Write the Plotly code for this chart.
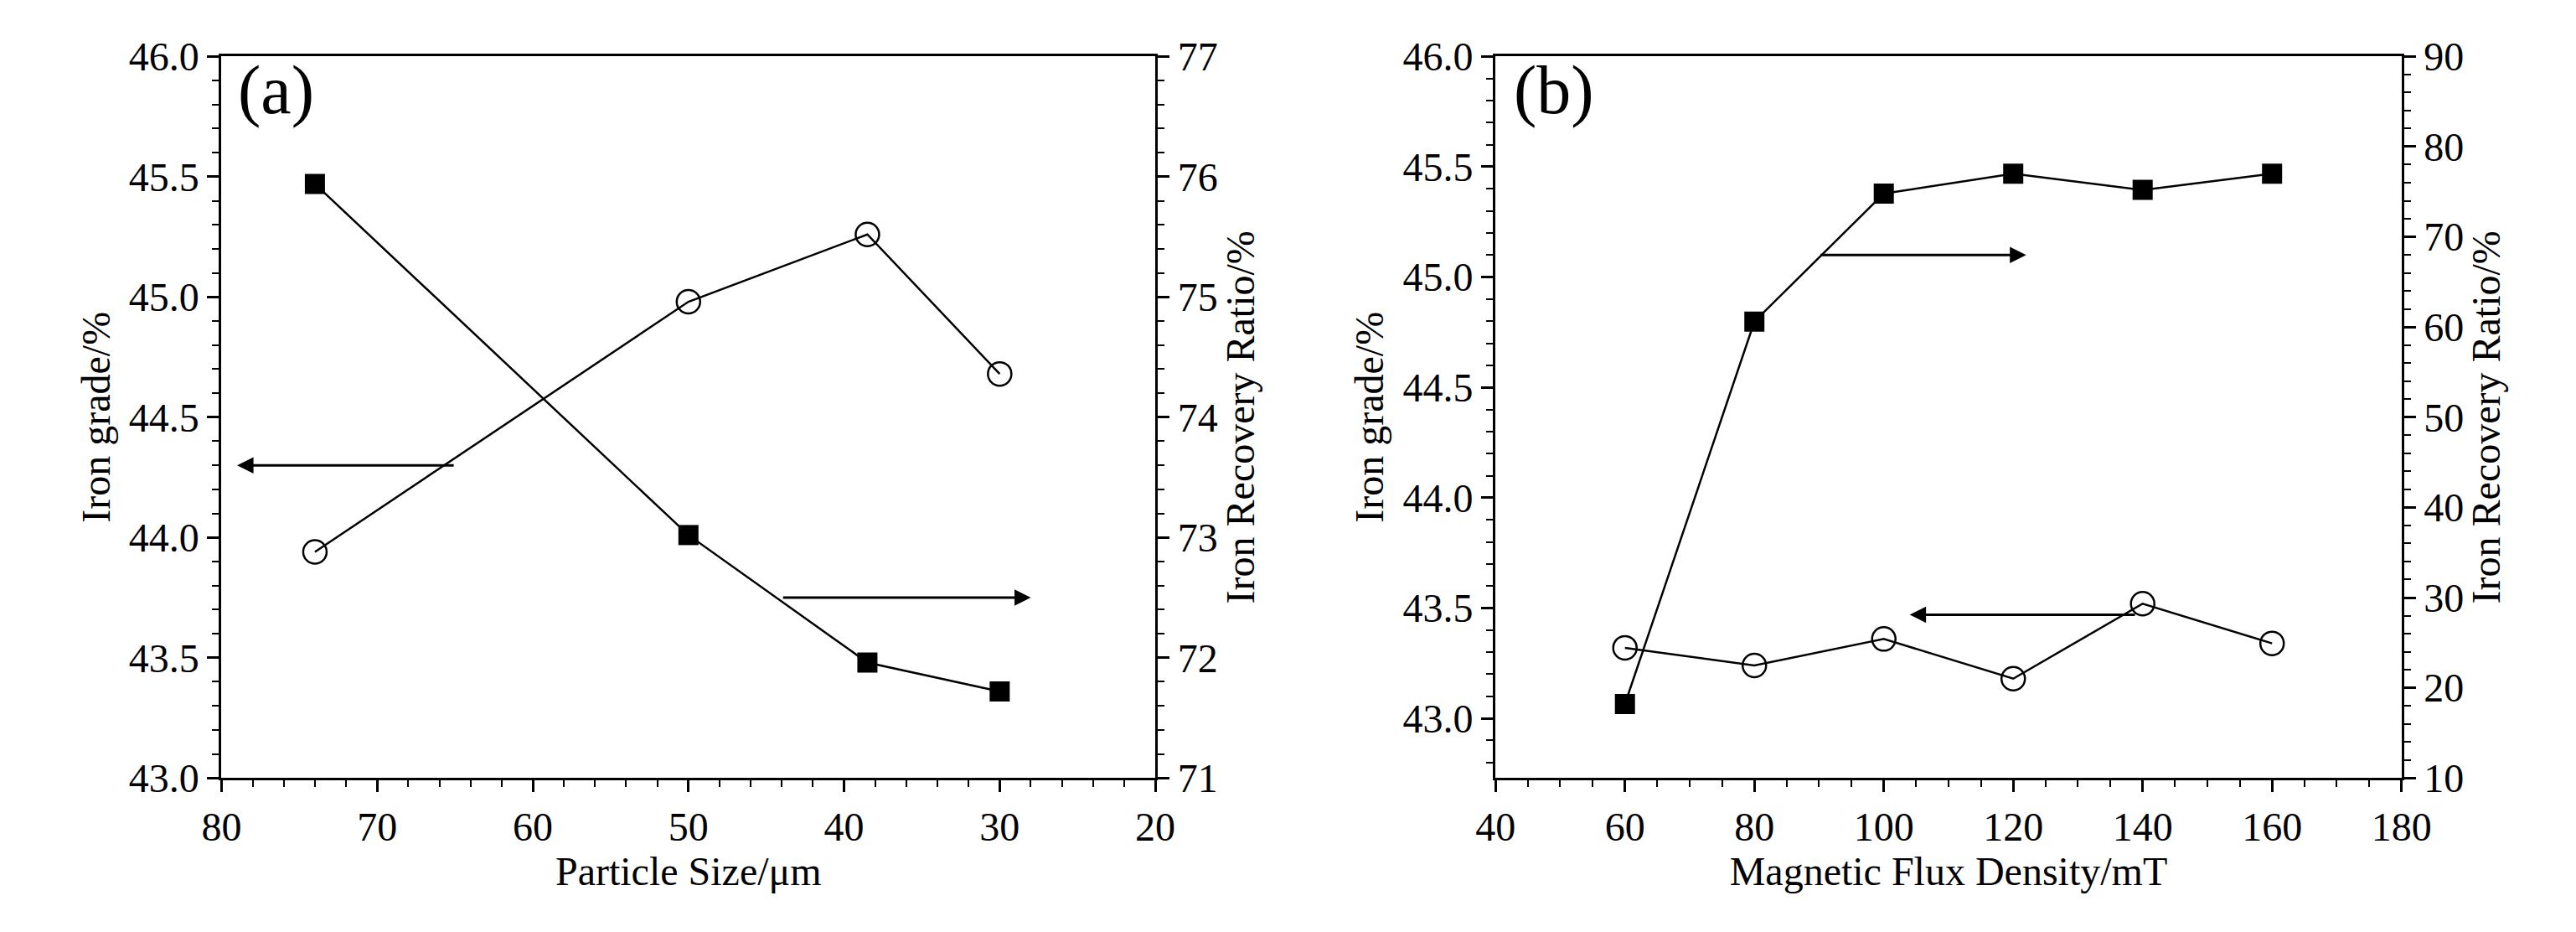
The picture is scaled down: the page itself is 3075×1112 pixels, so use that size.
import plotly.graph_objects as go

# panel (a)
size_a = [74, 50, 38.5, 30]
grade_a = [43.94, 44.98, 45.26, 44.68]
recov_a = [75.94, 73.02, 71.96, 71.72]

# panel (b)
flux_b = [60, 80, 100, 120, 140, 160]
grade_b = [43.32, 43.24, 43.36, 43.18, 43.52, 43.34]
recov_b = [18.2, 60.6, 74.8, 77.0, 75.2, 77.0]

FONT = "Liberation Serif"
tick_font = dict(family=FONT, size=48, color="black")
title_font = dict(family=FONT, size=48, color="black")

fig = go.Figure()

circ = dict(symbol="circle-open", size=28, color="black", line=dict(width=2.5))
sq = dict(symbol="square", size=24, color="black")
ln = dict(color="black", width=2.5)

fig.add_trace(go.Scatter(x=size_a, y=grade_a, mode="lines+markers", marker=circ, line=ln,
                         xaxis="x", yaxis="y"))
fig.add_trace(go.Scatter(x=size_a, y=recov_a, mode="lines+markers", marker=sq, line=ln,
                         xaxis="x", yaxis="y2"))
fig.add_trace(go.Scatter(x=flux_b, y=grade_b, mode="lines+markers", marker=circ, line=ln,
                         xaxis="x2", yaxis="y3"))
fig.add_trace(go.Scatter(x=flux_b, y=recov_b, mode="lines+markers", marker=sq, line=ln,
                         xaxis="x2", yaxis="y4"))

common = dict(showline=True, linecolor="black", linewidth=3, ticks="outside",
              ticklen=14, tickwidth=3, tickcolor="black", showgrid=False, zeroline=False,
              tickfont=tick_font,
              minor=dict(ticks="outside", ticklen=8, tickwidth=2, tickcolor="black"))


def ttl(text, standoff=8):
    return dict(text=text, standoff=standoff, font=title_font)


ydom = [0.1556, 0.9685]
fig.update_layout(
    width=3075, height=1112, showlegend=False,
    font=dict(family=FONT, size=48, color="black"),
    paper_bgcolor="white", plot_bgcolor="white",
    margin=dict(l=0, r=0, t=0, b=0),
    xaxis=dict(common, domain=[0.0771, 0.4468], range=[80, 20], dtick=10, mirror=True,
               anchor="y", title=ttl("Particle Size/μm", 4)),
    yaxis=dict(common, domain=ydom, range=[43, 46], dtick=0.5, tickformat=".1f",
               anchor="x", title=ttl("Iron grade/%")),
    yaxis2=dict(common, range=[71, 77], dtick=1, overlaying="y", side="right",
                anchor="x", title=ttl("Iron Recovery Ratio/%")),
    xaxis2=dict(common, domain=[0.5815, 0.9402], range=[40, 180], dtick=20, mirror=True,
                anchor="y3", title=ttl("Magnetic Flux Density/mT", 4)),
    yaxis3=dict(common, domain=ydom, range=[42.73, 46], tick0=43, dtick=0.5, tickformat=".1f",
                anchor="x2", title=ttl("Iron grade/%")),
    yaxis4=dict(common, range=[10, 90], dtick=10, overlaying="y3", side="right",
                anchor="x2", title=ttl("Iron Recovery Ratio/%")),
)

arrow = dict(showarrow=True, arrowhead=2, arrowsize=1.3, arrowwidth=3, arrowcolor="black", text="")
fig.add_annotation(arrow, x=79, y=44.3, ax=65, ay=44.3, xref="x", yref="y", axref="x", ayref="y")
fig.add_annotation(arrow, x=28, y=72.5, ax=44, ay=72.5, xref="x", yref="y2", axref="x", ayref="y2")
fig.add_annotation(arrow, x=122, y=45.1, ax=90, ay=45.1, xref="x2", yref="y3", axref="x2", ayref="y3")
fig.add_annotation(arrow, x=104, y=43.47, ax=139, ay=43.47, xref="x2", yref="y3", axref="x2", ayref="y3")

fig.add_annotation(text="(a)", x=0.083, y=0.975, xref="paper", yref="paper", showarrow=False,
                   xanchor="left", yanchor="top", font=dict(family=FONT, size=82, color="black"))
fig.add_annotation(text="(b)", x=0.588, y=0.975, xref="paper", yref="paper", showarrow=False,
                   xanchor="left", yanchor="top", font=dict(family=FONT, size=82, color="black"))

fig.write_html("out.html")
